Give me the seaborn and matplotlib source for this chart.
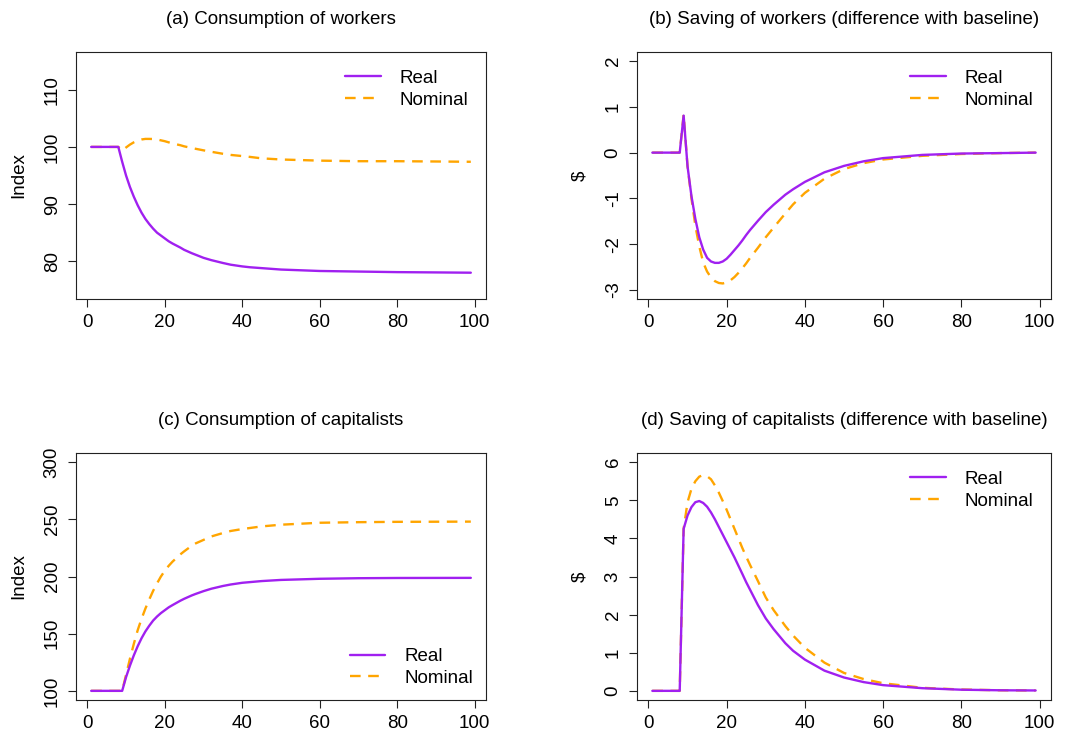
import matplotlib
matplotlib.use("Agg")
import matplotlib.pyplot as plt
import seaborn as sns
import pandas as pd

# ---------------- data ----------------
x_a = [1, 8, 9, 10, 11, 12, 13, 14, 15, 16, 17, 18, 19, 20, 21, 22, 24, 25, 27, 30, 32, 35, 37, 40,
       42, 45, 50, 60, 70, 80, 90, 99]
real_a = [100, 100, 97.4, 95.0, 93.0, 91.3, 89.8, 88.5, 87.4, 86.5, 85.7, 85.0, 84.5, 84.0, 83.5,
          83.1, 82.4, 82.0, 81.4, 80.6, 80.2, 79.7, 79.4, 79.1, 78.95, 78.8, 78.55, 78.3, 78.2, 78.1,
          78.05, 78.0]
nominal_a = [100, 100, 99.4, 99.9, 100.4, 100.8, 101.1, 101.3, 101.4, 101.4, 101.38, 101.3, 101.15,
             101.0, 100.8, 100.6, 100.3, 100.1, 99.8, 99.4, 99.15, 98.8, 98.6, 98.4, 98.25, 98.0,
             97.8, 97.6, 97.5, 97.5, 97.45, 97.4]

x_b = [1, 8, 9, 10, 11, 12, 13, 14, 15, 16, 17, 18, 19, 20, 21, 22, 23, 24, 25, 26, 27, 28, 30, 32,
       35, 37, 40, 45, 50, 55, 60, 70, 80, 90, 99]
real_b = [0, 0, 0.81, -0.3, -0.95, -1.45, -1.85, -2.12, -2.3, -2.38, -2.41, -2.41, -2.38, -2.32,
          -2.23, -2.13, -2.03, -1.92, -1.8, -1.69, -1.59, -1.49, -1.3, -1.14, -0.92, -0.8, -0.64,
          -0.43, -0.29, -0.19, -0.12, -0.05, -0.02, -0.01, 0]
nominal_b = [0, 0, 0.83, -0.3, -1.0, -1.6, -2.05, -2.4, -2.6, -2.73, -2.81, -2.85, -2.86, -2.84,
             -2.79, -2.72, -2.63, -2.53, -2.42, -2.3, -2.19, -2.08, -1.85, -1.64, -1.33, -1.13,
             -0.88, -0.57, -0.36, -0.23, -0.15, -0.07, -0.03, -0.01, 0]

x_c = [1, 9, 10, 11, 12, 13, 14, 15, 16, 17, 18, 19, 20, 21, 22, 24, 25, 27, 28, 30, 32, 35, 37, 40,
       45, 50, 60, 70, 80, 99]
real_c = [100, 100, 112, 122, 131, 139, 146, 152, 157, 161.5, 165, 168, 170.5, 173, 175, 178.8,
          180.5, 183.5, 184.8, 187.2, 189.3, 191.7, 193.0, 194.5, 196.0, 197.0, 198.0, 198.5,
          198.7, 198.8]
nominal_c = [100, 100, 114, 128, 141, 153, 163, 172, 180, 187.5, 194, 200, 205, 209.3, 213, 219.3,
             222, 227, 229, 232, 235, 238, 239.8, 241.5, 243.8, 245.3, 247, 247.5, 247.8, 248]

x_d = [1, 8, 9, 10, 11, 12, 13, 14, 15, 16, 17, 18, 19, 20, 21, 22, 24, 25, 26, 27, 28, 30, 32, 35,
       37, 40, 45, 50, 55, 60, 70, 80, 90, 99]
real_d = [0, 0, 4.25, 4.6, 4.82, 4.95, 4.98, 4.93, 4.83, 4.68, 4.5, 4.3, 4.1, 3.9, 3.7, 3.5, 3.07,
          2.85, 2.65, 2.45, 2.25, 1.9, 1.62, 1.25, 1.05, 0.82, 0.53, 0.35, 0.23, 0.15, 0.07, 0.03,
          0.015, 0.01]
nominal_d = [0, 0, 4.25, 4.95, 5.3, 5.5, 5.62, 5.66, 5.63, 5.55, 5.39, 5.2, 4.98, 4.75, 4.5, 4.25,
             3.75, 3.52, 3.3, 3.09, 2.88, 2.45, 2.12, 1.7, 1.45, 1.13, 0.74, 0.47, 0.31, 0.2, 0.08,
             0.035, 0.015, 0.01]

titles = ["(a) Consumption of workers",
          "(b) Saving of workers (difference with baseline)",
          "(c) Consumption of capitalists",
          "(d) Saving of capitalists (difference with baseline)"]
ylabels = ["Index", "$", "Index", "$"]
yticks = [[80, 90, 100, 110], [-3, -2, -1, 0, 1, 2], [100, 150, 200, 250, 300], [0, 1, 2, 3, 4, 5, 6]]
ylims = [(75, 115), (-3, 2), (100, 300), (0, 6)]
xticks = [0, 20, 40, 60, 80, 100]
series_names = ["Real", "Nominal"]

# ---------------- style ----------------
sns.set_style("white")
plt.rcParams["font.family"] = ["Liberation Sans", "DejaVu Sans"]
plt.rcParams["text.color"] = "black"
plt.rcParams["axes.labelcolor"] = "black"
plt.rcParams["xtick.color"] = "black"
plt.rcParams["ytick.color"] = "black"

W, H = 1075, 738
fig = plt.figure(figsize=(W / 100, H / 100), dpi=100)

# pixel boxes (left, top, right, bottom)
boxes = [(76, 52, 486, 299), (637, 52, 1051, 299),
         (76, 453, 486, 700), (637, 453, 1051, 700)]

panels = [(x_a, real_a, nominal_a), (x_b, real_b, nominal_b),
          (x_c, real_c, nominal_c), (x_d, real_d, nominal_d)]

PURPLE = "#A020F0"
ORANGE = "#FFA500"
EDGE = "#222222"

for i, (box, (xs, r, n)) in enumerate(zip(boxes, panels)):
    l, t, rr, b = box
    ax = fig.add_axes([l / W, 1 - b / H, (rr - l) / W, (b - t) / H])
    df = pd.DataFrame({"x": xs + xs,
                       "value": r + n,
                       "series": [series_names[0]] * len(xs) + [series_names[1]] * len(xs)})
    sns.lineplot(data=df[df.series == "Nominal"], x="x", y="value", ax=ax,
                 color=ORANGE, lw=1.7, linestyle=(0, (4.5, 3.2)), label="Nominal")
    sns.lineplot(data=df[df.series == "Real"], x="x", y="value", ax=ax,
                 color=PURPLE, lw=1.7, label="Real")
    lo, hi = ylims[i]
    pad = (hi - lo) * 0.04
    ax.set_ylim(lo - pad, hi + pad)
    ax.set_xlim(1 - 98 * 0.04, 99 + 98 * 0.04)
    ax.set_xticks(xticks)
    ax.set_yticks(yticks[i])
    ax.set_yticklabels([str(v) for v in yticks[i]], rotation=90, va="center")
    ax.tick_params(axis="both", direction="out", length=6, width=0.8, color=EDGE,
                   labelsize=13.5, pad=5, left=True, bottom=True, labelcolor="black")
    ax.set_xlabel("")
    ax.set_ylabel(ylabels[i], fontsize=13.5, labelpad=12, color="black")
    ax.set_title(titles[i], fontsize=13.5, pad=20, color="black")
    for s in ax.spines.values():
        s.set_visible(True)
        s.set_color(EDGE)
        s.set_linewidth(0.8)
    handles, labels = ax.get_legend_handles_labels()
    order = [labels.index("Real"), labels.index("Nominal")]
    if i == 2:
        loc, bap = "lower right", 0.3
    else:
        loc, bap = "upper right", 0.55
    ax.legend([handles[k] for k in order], [labels[k] for k in order],
              loc=loc, frameon=False, fontsize=13.5, handlelength=1.9,
              handletextpad=1.0, labelspacing=0.25, borderaxespad=bap)

fig.savefig("out.png", dpi=100)
